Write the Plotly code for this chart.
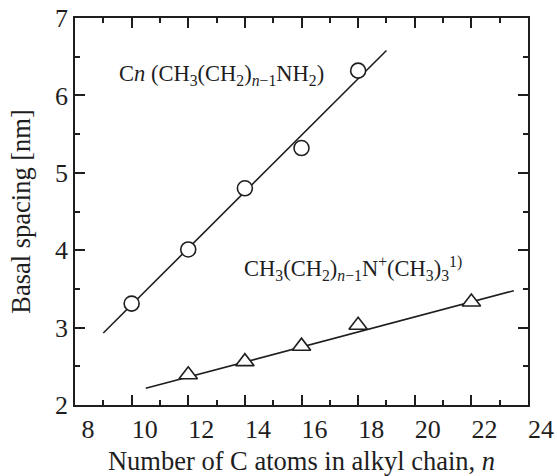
import plotly.graph_objects as go

# Data
n_amine = [10, 12, 14, 16, 18]
d_amine = [3.31, 4.01, 4.80, 5.32, 6.32]
fit_amine_x = [9.0, 19.0]
fit_amine_y = [2.93, 6.58]

n_quat = [12, 14, 16, 18, 22]
d_quat = [2.39, 2.56, 2.76, 3.03, 3.33]
fit_quat_x = [10.5, 23.5]
fit_quat_y = [2.216, 3.477]

x_ticks = [8, 10, 12, 14, 16, 18, 20, 22, 24]
y_ticks = [2, 3, 4, 5, 6, 7]

FONT = "Liberation Serif, Times New Roman, serif"
INK = "#1e1e1e"

fig = go.Figure()
fig.add_trace(go.Scatter(x=fit_amine_x, y=fit_amine_y, mode="lines",
                         line=dict(color=INK, width=1.6), showlegend=False))
fig.add_trace(go.Scatter(x=fit_quat_x, y=fit_quat_y, mode="lines",
                         line=dict(color=INK, width=1.6), showlegend=False))
fig.add_trace(go.Scatter(x=n_amine, y=d_amine, mode="markers",
                         marker=dict(symbol="circle", size=15, color="white",
                                     line=dict(color=INK, width=1.6)),
                         showlegend=False))
fig.add_trace(go.Scatter(x=n_quat, y=d_quat, mode="markers",
                         marker=dict(symbol="triangle-up", size=16, color="white",
                                     line=dict(color=INK, width=1.6)),
                         showlegend=False))

fig.add_annotation(x=9.49, y=6.26, xref="x", yref="y", xanchor="left", yanchor="middle",
                   showarrow=False,
                   text="C<i>n</i> (CH<sub>3</sub>(CH<sub>2</sub>)<sub><i>n</i>−1</sub>NH<sub>2</sub>)",
                   font=dict(family=FONT, size=22.5, color=INK))
fig.add_annotation(x=13.9, y=3.77, xref="x", yref="y", xanchor="left", yanchor="middle",
                   showarrow=False,
                   text="CH<sub>3</sub>(CH<sub>2</sub>)<sub><i>n</i>−1</sub>N<sup>+</sup>(CH<sub>3</sub>)<sub>3</sub><sup>1)</sup>",
                   font=dict(family=FONT, size=22.5, color=INK))

axis_common = dict(showline=True, linecolor=INK, linewidth=1.6, mirror="ticks",
                   ticks="inside", ticklen=10, tickwidth=1.6, tickcolor=INK,
                   showgrid=False, zeroline=False, automargin=False,
                   tickfont=dict(family=FONT, size=26, color=INK))

fig.update_xaxes(range=[8, 24], tickvals=x_ticks, ticklabelshift=13,
                 minor=dict(ticks="inside", ticklen=5, dtick=1, tickwidth=1.6,
                            tickcolor=INK, showgrid=False),
                 title=dict(text="Number of C atoms in alkyl chain, <i>n</i>",
                            font=dict(family=FONT, size=26.5, color=INK), standoff=12),
                 **axis_common)
fig.update_yaxes(range=[2, 7], tickvals=y_ticks,
                 minor=dict(ticks="inside", ticklen=5, dtick=0.5, tickwidth=1.6,
                            tickcolor=INK, showgrid=False),
                 title=dict(text="Basal spacing [nm]",
                            font=dict(family=FONT, size=26.5, color=INK), standoff=17),
                 **axis_common)

fig.update_layout(width=557, height=476,
                  margin=dict(l=75, r=29, t=18, b=71, pad=0),
                  plot_bgcolor="white", paper_bgcolor="white")

fig.write_html("out.html")
